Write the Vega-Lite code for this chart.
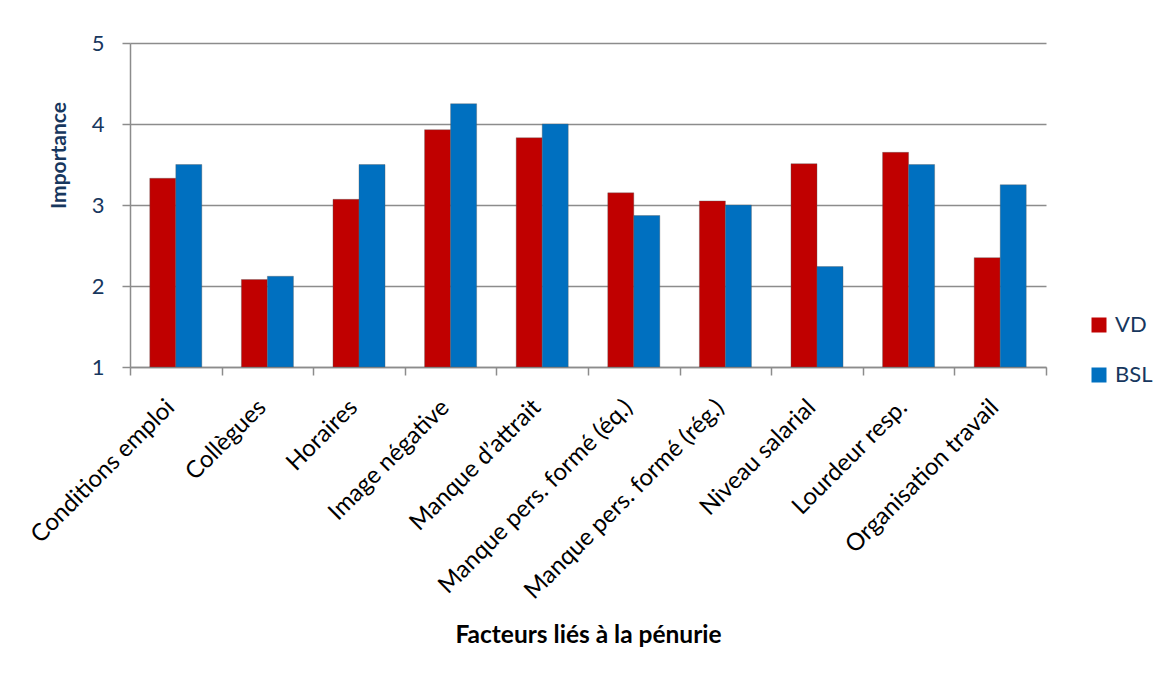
{
  "$schema": "https://vega.github.io/schema/vega-lite/v6.json",
  "autosize": {"type": "none"},
  "padding": {"left": 130, "top": 43, "right": 115, "bottom": 310},
  "width": 916,
  "height": 324,
  "background": "white",
  "config": {"font": "Lato", "view": {"stroke": null}},
  "data": {
    "values": [
      {"facteur": "Conditions emploi", "region": "VD", "importance": 3.33},
      {"facteur": "Conditions emploi", "region": "BSL", "importance": 3.50},
      {"facteur": "Collègues", "region": "VD", "importance": 2.08},
      {"facteur": "Collègues", "region": "BSL", "importance": 2.12},
      {"facteur": "Horaires", "region": "VD", "importance": 3.07},
      {"facteur": "Horaires", "region": "BSL", "importance": 3.50},
      {"facteur": "Image négative", "region": "VD", "importance": 3.93},
      {"facteur": "Image négative", "region": "BSL", "importance": 4.25},
      {"facteur": "Manque d’attrait", "region": "VD", "importance": 3.83},
      {"facteur": "Manque d’attrait", "region": "BSL", "importance": 4.00},
      {"facteur": "Manque pers. formé (éq.)", "region": "VD", "importance": 3.15},
      {"facteur": "Manque pers. formé (éq.)", "region": "BSL", "importance": 2.87},
      {"facteur": "Manque pers. formé (rég.)", "region": "VD", "importance": 3.05},
      {"facteur": "Manque pers. formé (rég.)", "region": "BSL", "importance": 3.00},
      {"facteur": "Niveau salarial", "region": "VD", "importance": 3.51},
      {"facteur": "Niveau salarial", "region": "BSL", "importance": 2.24},
      {"facteur": "Lourdeur resp.", "region": "VD", "importance": 3.65},
      {"facteur": "Lourdeur resp.", "region": "BSL", "importance": 3.50},
      {"facteur": "Organisation travail", "region": "VD", "importance": 2.35},
      {"facteur": "Organisation travail", "region": "BSL", "importance": 3.25}
    ]
  },
  "mark": {"type": "bar", "stroke": "#5a5a5a", "strokeWidth": 0.6, "strokeOpacity": 0.6},
  "encoding": {
    "x": {
      "field": "facteur",
      "type": "nominal",
      "sort": null,
      "scale": {"paddingInner": 0, "paddingOuter": 0},
      "axis": {
        "title": "Facteurs liés à la pénurie",
        "titleFontSize": 24.5,
        "titleFontWeight": "bold",
        "titleColor": "#000000",
        "titleBaseline": "alphabetic",
        "titleY": 275,
        "labelAngle": -45,
        "labelFontSize": 24,
        "labelColor": "#000000",
        "labelPadding": 20,
        "labelOffset": -14,
        "labelLimit": 400,
        "tickBand": "extent",
        "tickSize": 8,
        "tickColor": "#8C8C8C",
        "tickWidth": 1.5,
        "domainColor": "#8C8C8C",
        "domainWidth": 1.5,
        "grid": false
      }
    },
    "xOffset": {
      "field": "region",
      "type": "nominal",
      "sort": ["VD", "BSL"],
      "scale": {"paddingInner": 0, "paddingOuter": 0.76}
    },
    "y": {
      "field": "importance",
      "type": "quantitative",
      "scale": {"domain": [1, 5], "zero": false, "nice": false},
      "axis": {
        "title": "Importance",
        "titleFontSize": 21,
        "titleFontWeight": "bold",
        "titleColor": "#17375E",
        "titleAngle": -90,
        "titleBaseline": "alphabetic",
        "titleAlign": "center",
        "titleX": -65,
        "titleY": 112,
        "values": [1, 2, 3, 4, 5],
        "labelFontSize": 22,
        "labelColor": "#17375E",
        "labelPadding": 18,
        "tickSize": 8,
        "tickColor": "#8C8C8C",
        "tickWidth": 1.5,
        "domainColor": "#8C8C8C",
        "domainWidth": 1.5,
        "gridColor": "#8C8C8C",
        "gridWidth": 1.5
      }
    },
    "y2": {"datum": 1},
    "color": {
      "field": "region",
      "type": "nominal",
      "sort": ["VD", "BSL"],
      "scale": {"domain": ["VD", "BSL"], "range": ["#C00000", "#0070C0"]},
      "legend": {
        "title": null,
        "orient": "none",
        "legendX": 958,
        "legendY": 271,
        "symbolType": "square",
        "symbolSize": 225,
        "symbolStrokeWidth": 0,
        "labelFontSize": 22,
        "labelColor": "#17375E",
        "labelOffset": 5,
        "rowPadding": 28,
        "padding": 0
      }
    }
  }
}
